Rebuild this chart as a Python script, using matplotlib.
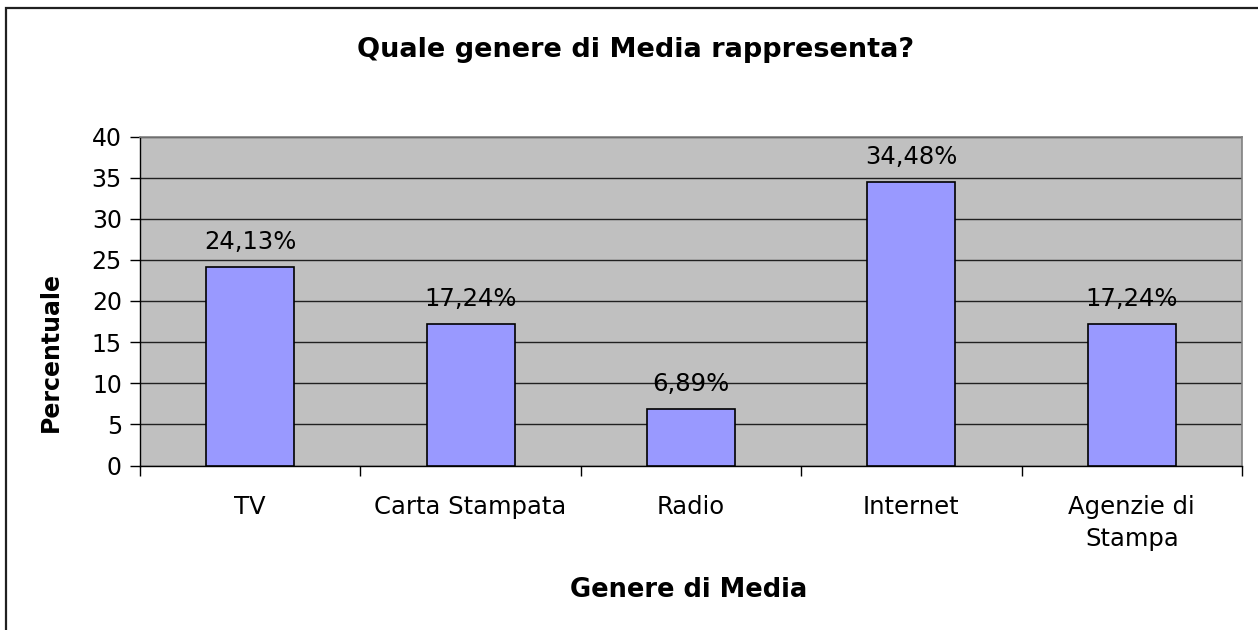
import matplotlib
matplotlib.use("Agg")
import matplotlib.pyplot as plt
from matplotlib.patches import Rectangle

plt.rcParams['font.family'] = ['DejaVu Sans']

categories = ["TV", "Carta Stampata", "Radio", "Internet", "Agenzie di\nStampa"]
values = [24.13, 17.24, 6.89, 34.48, 17.24]
value_labels = ["24,13%", "17,24%", "6,89%", "34,48%", "17,24%"]
y_ticks = [0, 5, 10, 15, 20, 25, 30, 35, 40]

W, H = 1258, 630
fig = plt.figure(figsize=(W / 100, H / 100), dpi=100)
fig.patch.set_facecolor("white")

# outer chart border
fig.add_artist(Rectangle((6 / W, -0.02), 1.05, 1 - 7.5 / H + 0.02,
                         transform=fig.transFigure, fill=False,
                         edgecolor="#202020", linewidth=1.6))

ax = fig.add_axes([140 / W, 1 - 465.5 / H, 1102 / W, 329 / H])
ax.set_facecolor("#C0C0C0")

x = list(range(len(categories)))
ax.bar(x, values, width=0.4, color="#9999FF", edgecolor="black", linewidth=1.2, zorder=3)
for xi, v, lab in zip(x, values, value_labels):
    ax.annotate(lab, (xi, v), xytext=(0, 13), textcoords="offset points",
                ha="center", va="baseline", fontsize=17.5, color="black", zorder=4)

ax.set_xlim(-0.5, len(categories) - 0.5)
ax.set_ylim(0, 40)
ax.set_yticks(y_ticks)
ax.set_yticklabels([str(t) for t in y_ticks], fontsize=17)
ax.yaxis.grid(True, color="#202020", linewidth=1.0, zorder=1)
ax.set_axisbelow(True)

# category boundaries as major ticks, names on minor ticks at centres
ax.set_xticks([i - 0.5 for i in range(len(categories) + 1)])
ax.set_xticklabels([""] * (len(categories) + 1))
ax.set_xticks(x, minor=True)
ax.set_xticklabels(categories, minor=True, fontsize=17.5, linespacing=1.45)
ax.tick_params(axis="x", which="major", direction="out", length=7, width=1, color="black")
ax.tick_params(axis="x", which="minor", length=0, pad=21)
ax.tick_params(axis="y", direction="out", length=7, width=1, color="black", pad=6)

for s in ("left", "bottom"):
    ax.spines[s].set_color("black")
    ax.spines[s].set_linewidth(1.0)
for s in ("top", "right"):
    ax.spines[s].set_color("#808080")
    ax.spines[s].set_linewidth(1.2)

fig.text(636 / W, 1 - 57 / H, "Quale genere di Media rappresenta?", ha="center", va="baseline",
         fontsize=19.5, fontweight="bold")
fig.text(51 / W, 1 - 352 / H, "Percentuale", ha="center", va="center", rotation=90,
         fontsize=17, fontweight="bold")
fig.text(689 / W, 1 - 597 / H, "Genere di Media", ha="center", va="baseline",
         fontsize=18.5, fontweight="bold")

fig.savefig("out.png", dpi=100)
